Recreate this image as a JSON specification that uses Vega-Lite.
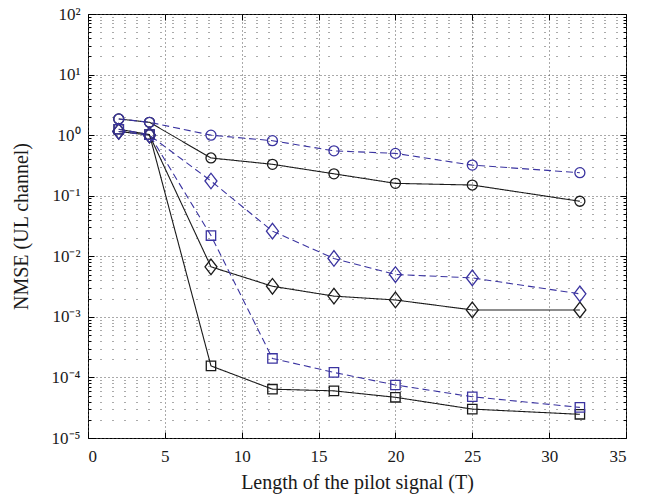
{
  "$schema": "https://vega.github.io/schema/vega-lite/v6.json",
  "width": 538,
  "height": 424,
  "autosize": "none",
  "padding": {"left": 88, "top": 14, "right": 27, "bottom": 59},
  "background": "white",
  "config": {
    "view": {"stroke": "#000", "strokeWidth": 1},
    "font": "Liberation Serif",
    "axis": {
      "labelFont": "Liberation Serif",
      "titleFont": "Liberation Serif",
      "labelFontSize": 17,
      "titleFontSize": 20,
      "titleFontWeight": "normal",
      "labelColor": "#1a1a1a",
      "titleColor": "#1a1a1a",
      "domainColor": "#000",
      "tickColor": "#000",
      "gridColor": "#555",
      "gridOpacity": 1
    }
  },
  "data": {
    "values": [
      {"T": 2, "nmse": 1.85, "style": "solid", "marker": "circle", "series": "solid-circle"},
      {"T": 4, "nmse": 1.63, "style": "solid", "marker": "circle", "series": "solid-circle"},
      {"T": 8, "nmse": 0.42, "style": "solid", "marker": "circle", "series": "solid-circle"},
      {"T": 12, "nmse": 0.33, "style": "solid", "marker": "circle", "series": "solid-circle"},
      {"T": 16, "nmse": 0.23, "style": "solid", "marker": "circle", "series": "solid-circle"},
      {"T": 20, "nmse": 0.16, "style": "solid", "marker": "circle", "series": "solid-circle"},
      {"T": 25, "nmse": 0.15, "style": "solid", "marker": "circle", "series": "solid-circle"},
      {"T": 32, "nmse": 0.081, "style": "solid", "marker": "circle", "series": "solid-circle"},
      {"T": 2, "nmse": 1.85, "style": "dashed", "marker": "circle", "series": "dashed-circle"},
      {"T": 4, "nmse": 1.63, "style": "dashed", "marker": "circle", "series": "dashed-circle"},
      {"T": 8, "nmse": 1.0, "style": "dashed", "marker": "circle", "series": "dashed-circle"},
      {"T": 12, "nmse": 0.81, "style": "dashed", "marker": "circle", "series": "dashed-circle"},
      {"T": 16, "nmse": 0.55, "style": "dashed", "marker": "circle", "series": "dashed-circle"},
      {"T": 20, "nmse": 0.5, "style": "dashed", "marker": "circle", "series": "dashed-circle"},
      {"T": 25, "nmse": 0.32, "style": "dashed", "marker": "circle", "series": "dashed-circle"},
      {"T": 32, "nmse": 0.24, "style": "dashed", "marker": "circle", "series": "dashed-circle"},
      {"T": 2, "nmse": 1.15, "style": "solid", "marker": "diamond", "series": "solid-diamond"},
      {"T": 4, "nmse": 1.0, "style": "solid", "marker": "diamond", "series": "solid-diamond"},
      {"T": 8, "nmse": 0.0067, "style": "solid", "marker": "diamond", "series": "solid-diamond"},
      {"T": 12, "nmse": 0.0032, "style": "solid", "marker": "diamond", "series": "solid-diamond"},
      {"T": 16, "nmse": 0.0022, "style": "solid", "marker": "diamond", "series": "solid-diamond"},
      {"T": 20, "nmse": 0.0019, "style": "solid", "marker": "diamond", "series": "solid-diamond"},
      {"T": 25, "nmse": 0.0013, "style": "solid", "marker": "diamond", "series": "solid-diamond"},
      {"T": 32, "nmse": 0.0013, "style": "solid", "marker": "diamond", "series": "solid-diamond"},
      {"T": 2, "nmse": 1.15, "style": "dashed", "marker": "diamond", "series": "dashed-diamond"},
      {"T": 4, "nmse": 1.0, "style": "dashed", "marker": "diamond", "series": "dashed-diamond"},
      {"T": 8, "nmse": 0.175, "style": "dashed", "marker": "diamond", "series": "dashed-diamond"},
      {"T": 12, "nmse": 0.026, "style": "dashed", "marker": "diamond", "series": "dashed-diamond"},
      {"T": 16, "nmse": 0.0092, "style": "dashed", "marker": "diamond", "series": "dashed-diamond"},
      {"T": 20, "nmse": 0.005, "style": "dashed", "marker": "diamond", "series": "dashed-diamond"},
      {"T": 25, "nmse": 0.0044, "style": "dashed", "marker": "diamond", "series": "dashed-diamond"},
      {"T": 32, "nmse": 0.0024, "style": "dashed", "marker": "diamond", "series": "dashed-diamond"},
      {"T": 2, "nmse": 1.25, "style": "solid", "marker": "square", "series": "solid-square"},
      {"T": 4, "nmse": 1.02, "style": "solid", "marker": "square", "series": "solid-square"},
      {"T": 8, "nmse": 0.000155, "style": "solid", "marker": "square", "series": "solid-square"},
      {"T": 12, "nmse": 0.000064, "style": "solid", "marker": "square", "series": "solid-square"},
      {"T": 16, "nmse": 0.00006, "style": "solid", "marker": "square", "series": "solid-square"},
      {"T": 20, "nmse": 0.000047, "style": "solid", "marker": "square", "series": "solid-square"},
      {"T": 25, "nmse": 0.00003, "style": "solid", "marker": "square", "series": "solid-square"},
      {"T": 32, "nmse": 0.0000246, "style": "solid", "marker": "square", "series": "solid-square"},
      {"T": 2, "nmse": 1.25, "style": "dashed", "marker": "square", "series": "dashed-square"},
      {"T": 4, "nmse": 1.02, "style": "dashed", "marker": "square", "series": "dashed-square"},
      {"T": 8, "nmse": 0.022, "style": "dashed", "marker": "square", "series": "dashed-square"},
      {"T": 12, "nmse": 0.000206, "style": "dashed", "marker": "square", "series": "dashed-square"},
      {"T": 16, "nmse": 0.000121, "style": "dashed", "marker": "square", "series": "dashed-square"},
      {"T": 20, "nmse": 0.000075, "style": "dashed", "marker": "square", "series": "dashed-square"},
      {"T": 25, "nmse": 0.000048, "style": "dashed", "marker": "square", "series": "dashed-square"},
      {"T": 32, "nmse": 0.000032, "style": "dashed", "marker": "square", "series": "dashed-square"}
    ]
  },
  "layer": [
    {
      "mark": {"type": "line", "strokeWidth": 1.1},
      "encoding": {
        "x": {
          "field": "T", "type": "quantitative",
          "scale": {"domain": [0, 35], "nice": false, "zero": false},
          "axis": {
            "orient": "bottom",
            "title": "Length of the pilot signal (T)",
            "values": [0, 5, 10, 15, 20, 25, 30, 35],
            "format": "d",
            "grid": true,
            "gridDash": [1, 3],
            "tickSize": -6,
            "labelPadding": 16,
            "titlePadding": 8,
            "domain": false
          }
        },
        "y": {
          "field": "nmse", "type": "quantitative",
          "scale": {"type": "log", "domain": [0.00001, 100], "nice": false},
          "axis": {
            "orient": "left",
            "title": "NMSE (UL channel)",
            "values": [0.00001, 0.00002, 0.00003, 0.00004, 0.00005, 0.00006, 0.00007, 0.00008, 0.00009,
                       0.0001, 0.0002, 0.0003, 0.0004, 0.0005, 0.0006, 0.0007, 0.0008, 0.0009,
                       0.001, 0.002, 0.003, 0.004, 0.005, 0.006, 0.007, 0.008, 0.009,
                       0.01, 0.02, 0.03, 0.04, 0.05, 0.06, 0.07, 0.08, 0.09,
                       0.1, 0.2, 0.3, 0.4, 0.5, 0.6, 0.7, 0.8, 0.9,
                       1, 2, 3, 4, 5, 6, 7, 8, 9,
                       10, 20, 30, 40, 50, 60, 70, 80, 90, 100],
            "labelExpr": "datum.value==100?'10²':datum.value==10?'10¹':datum.value==1?'10⁰':datum.value==0.1?'10⁻¹':datum.value==0.01?'10⁻²':datum.value==0.001?'10⁻³':datum.value==0.0001?'10⁻⁴':datum.value==0.00001?'10⁻⁵':''",
            "grid": true,
            "gridDash": {"condition": {"test": "indexof([100,10,1,0.1,0.01,0.001,0.0001,0.00001], datum.value) >= 0", "value": [1, 3]}, "value": [1, 11]},
            "tickSize": {"condition": {"test": "indexof([100,10,1,0.1,0.01,0.001,0.0001,0.00001], datum.value) >= 0", "value": -6}, "value": -3},
            "labelPadding": 14,
            "titlePadding": 20,
            "labelOverlap": false,
            "domain": false
          }
        },
        "color": {"field": "style", "type": "nominal", "scale": {"domain": ["solid", "dashed"], "range": ["#1a1a1a", "#3a33a0"]}, "legend": null},
        "strokeDash": {"field": "style", "type": "nominal", "scale": {"domain": ["solid", "dashed"], "range": [[1, 0], [7, 4]]}, "legend": null},
        "detail": {"field": "series"}
      }
    },
    {
      "transform": [{"filter": "datum.marker == 'circle'"}],
      "mark": {"type": "point", "shape": "circle", "size": 100, "filled": false, "strokeWidth": 1.3, "opacity": 1},
      "encoding": {
        "x": {
          "field": "T", "type": "quantitative",
          "scale": {"domain": [0, 35], "nice": false, "zero": false},
          "axis": {"orient": "top", "title": null, "labels": false, "values": [0, 5, 10, 15, 20, 25, 30, 35], "grid": false, "tickSize": -6, "domain": false}
        },
        "y": {
          "field": "nmse", "type": "quantitative",
          "scale": {"type": "log", "domain": [0.00001, 100], "nice": false},
          "axis": {
            "orient": "right", "title": null, "labels": false, "grid": false, "domain": false,
            "values": [0.00001, 0.00002, 0.00003, 0.00004, 0.00005, 0.00006, 0.00007, 0.00008, 0.00009,
                       0.0001, 0.0002, 0.0003, 0.0004, 0.0005, 0.0006, 0.0007, 0.0008, 0.0009,
                       0.001, 0.002, 0.003, 0.004, 0.005, 0.006, 0.007, 0.008, 0.009,
                       0.01, 0.02, 0.03, 0.04, 0.05, 0.06, 0.07, 0.08, 0.09,
                       0.1, 0.2, 0.3, 0.4, 0.5, 0.6, 0.7, 0.8, 0.9,
                       1, 2, 3, 4, 5, 6, 7, 8, 9,
                       10, 20, 30, 40, 50, 60, 70, 80, 90, 100],
            "tickSize": {"condition": {"test": "indexof([100,10,1,0.1,0.01,0.001,0.0001,0.00001], datum.value) >= 0", "value": -6}, "value": -3}
          }
        },
        "color": {"field": "style", "type": "nominal", "scale": {"domain": ["solid", "dashed"], "range": ["#1a1a1a", "#3a33a0"]}, "legend": null}
      }
    },
    {
      "transform": [{"filter": "datum.marker == 'diamond'"}],
      "mark": {"type": "point", "shape": "M-1,0L0,-1.3L1,0L0,1.3Z", "size": 144, "filled": false, "strokeWidth": 1.3, "opacity": 1},
      "encoding": {
        "x": {"field": "T", "type": "quantitative", "scale": {"domain": [0, 35], "nice": false, "zero": false}, "axis": null},
        "y": {"field": "nmse", "type": "quantitative", "scale": {"type": "log", "domain": [0.00001, 100], "nice": false}, "axis": null},
        "color": {"field": "style", "type": "nominal", "scale": {"domain": ["solid", "dashed"], "range": ["#1a1a1a", "#3a33a0"]}, "legend": null}
      }
    },
    {
      "transform": [{"filter": "datum.marker == 'square'"}],
      "mark": {"type": "point", "shape": "square", "size": 88, "filled": false, "strokeWidth": 1.3, "opacity": 1},
      "encoding": {
        "x": {"field": "T", "type": "quantitative", "scale": {"domain": [0, 35], "nice": false, "zero": false}, "axis": null},
        "y": {"field": "nmse", "type": "quantitative", "scale": {"type": "log", "domain": [0.00001, 100], "nice": false}, "axis": null},
        "color": {"field": "style", "type": "nominal", "scale": {"domain": ["solid", "dashed"], "range": ["#1a1a1a", "#3a33a0"]}, "legend": null}
      }
    }
  ],
  "resolve": {"axis": {"x": "independent", "y": "independent"}}
}
